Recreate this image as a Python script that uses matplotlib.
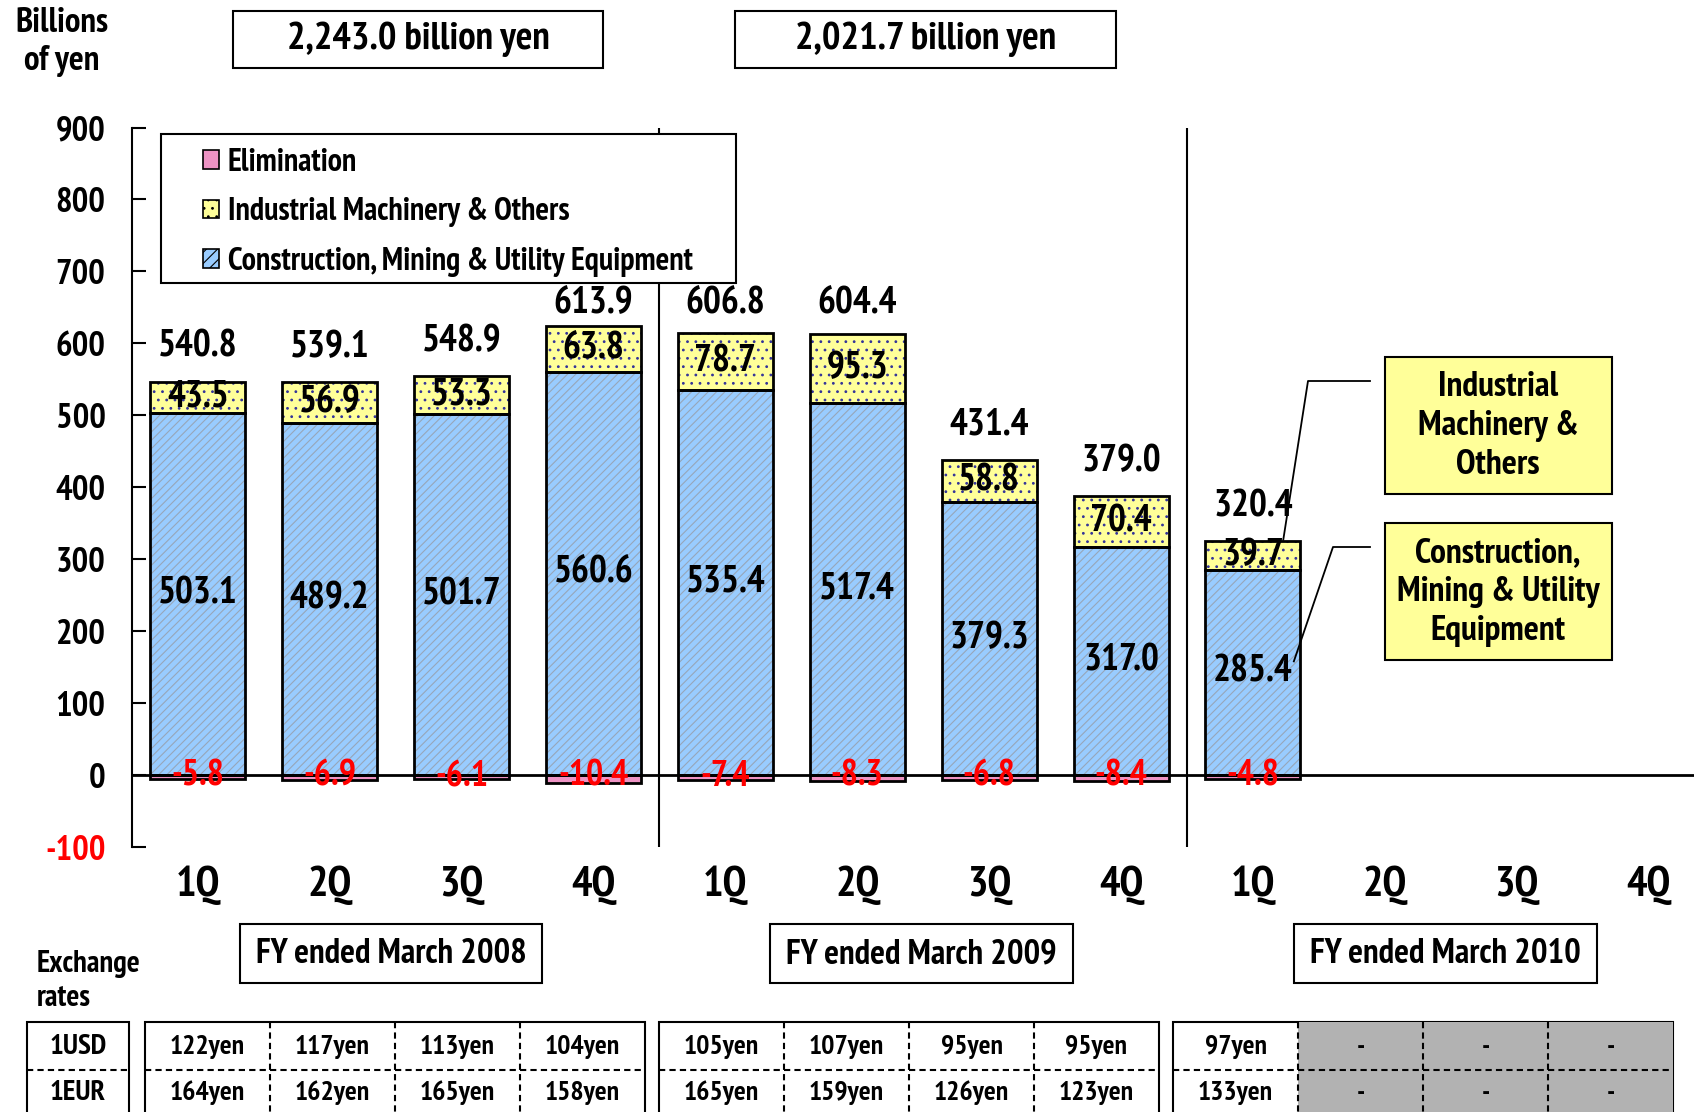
import matplotlib
matplotlib.use('Agg')
import matplotlib.pyplot as plt
from matplotlib.patches import Rectangle
import numpy as np

plt.rcParams['font.family'] = ['PT Sans Narrow', 'DejaVu Sans']
plt.rcParams['font.weight'] = 'bold'
plt.rcParams['axes.unicode_minus'] = False
plt.rcParams['hatch.linewidth'] = 0.8

quarters = ['1Q', '2Q', '3Q', '4Q'] * 3
cmu = [503.1, 489.2, 501.7, 560.6, 535.4, 517.4, 379.3, 317.0, 285.4]
imo = [43.5, 56.9, 53.3, 63.8, 78.7, 95.3, 58.8, 70.4, 39.7]
elim = [-5.8, -6.9, -6.1, -10.4, -7.4, -8.3, -6.8, -8.4, -4.8]
totals = [540.8, 539.1, 548.9, 613.9, 606.8, 604.4, 431.4, 379.0, 320.4]
year_totals = ['2,243.0 billion yen', '2,021.7 billion yen']
fy_names = ['FY ended March 2008', 'FY ended March 2009', 'FY ended March 2010']
usd = ['122yen', '117yen', '113yen', '104yen', '105yen', '107yen', '95yen', '95yen', '97yen', '-', '-', '-']
eur = ['164yen', '162yen', '165yen', '158yen', '165yen', '159yen', '126yen', '123yen', '133yen', '-', '-', '-']
legend_names = ['Elimination', 'Industrial Machinery & Others',
                'Construction, Mining & Utility Equipment']

C_BLUE = '#99CCFF'
C_YEL = '#FFFF99'
C_PINK = '#EE93C4'

W, H = 1694, 1112
fig = plt.figure(figsize=(W / 100, H / 100), dpi=100)

# main axes, 12 quarter slots, last one runs past the right edge
left = 131.8 / W
slot = 131.9 / W
ax = fig.add_axes([left, 1 - 847 / H, slot * 12, (847 - 127.5) / H])
ax.set_xlim(-0.5, 11.5)
ax.set_ylim(-100, 900)

x = np.arange(len(cmu))
bw = 0.72
cmu = np.array(cmu)
imo = np.array(imo)
elim = np.array(elim)

# fills with hatching, then black outlines on top
ax.bar(x, cmu, bw, color=C_BLUE, edgecolor='#97a6b8', hatch='////', lw=0, zorder=2)
ax.bar(x, imo, bw, bottom=cmu, color=C_YEL, edgecolor='#333399', hatch='..', lw=0, zorder=2)
ax.bar(x, elim, bw, color=C_PINK, lw=0, zorder=2)
for vals, bot in [(cmu, 0), (imo, cmu), (elim, 0)]:
    ax.bar(x, vals, bw, bottom=bot, fill=False, edgecolor='black', lw=2, zorder=3)

ax.axhline(0, color='black', lw=2, zorder=4)
ax.vlines([3.5, 7.5], -100, 900, color='black', lw=1.5, zorder=1)

for i in range(len(cmu)):
    ax.text(x[i], cmu[i] / 2, f'{cmu[i]:.1f}', ha='center', va='center', fontsize=27, zorder=5)
    ax.text(x[i], cmu[i] + imo[i] / 2, f'{imo[i]:.1f}', ha='center', va='center', fontsize=27, zorder=5)
    ax.text(x[i], -2, f'{elim[i]:.1f}', ha='center', va='center', fontsize=26, color='red', zorder=5)
    top = cmu[i] + imo[i]
    ax.text(x[i], min(top + 48, 655), f'{totals[i]:.1f}', ha='center', va='center', fontsize=27, zorder=5)

for i, q in enumerate(quarters):
    ax.text(i, -153, q, ha='center', va='center', fontsize=31, clip_on=False)

for s in ['top', 'right', 'bottom']:
    ax.spines[s].set_visible(False)
ax.spines['left'].set_linewidth(1.5)
ax.set_xticks([])
ax.set_yticks(np.arange(-100, 901, 100))
ax.tick_params(axis='y', direction='in', length=10, width=1.5, labelsize=25, pad=19)
for lab in ax.get_yticklabels():
    lab.set_fontweight('bold')
ax.get_yticklabels()[0].set_color('red')

# overlay in pixel units for the boxes and the rate table
ov = fig.add_axes([0, 0, 1, 1])
ov.set_xlim(0, W)
ov.set_ylim(H, 0)
ov.axis('off')


def box(x0, y0, x1, y1, fc='white', lw=1.5, z=2):
    ov.add_patch(Rectangle((x0, y0), x1 - x0, y1 - y0, fc=fc, ec='black', lw=lw, zorder=z))


def to_px(xd, yd):
    dx, dy = ax.transData.transform((xd, yd))
    return dx, H - dy


ov.text(62, 42, 'Billions\nof yen', ha='center', va='center', fontsize=25, linespacing=1.25)

for (x0, x1), t in zip([(233, 603), (735, 1116)], year_totals):
    box(x0, 11, x1, 68)
    ov.text((x0 + x1) / 2, 39, t, ha='center', va='center', fontsize=28, zorder=3)

# legend
box(161, 134, 736, 283, z=3)
handles = [Rectangle((0, 0), 1, 1, fc=C_PINK, ec='black', lw=1.2),
           Rectangle((0, 0), 1, 1, fc=C_YEL, ec='black', lw=1.2, hatch='..'),
           Rectangle((0, 0), 1, 1, fc=C_BLUE, ec='black', lw=1.2, hatch='///')]
leg = ov.legend(handles, legend_names, loc='upper left', bbox_to_anchor=(190 / W, 1 - 135 / H),
                bbox_transform=fig.transFigure, frameon=False, fontsize=23, handlelength=0.5,
                handleheight=0.5, handletextpad=0.28, labelspacing=0.61, borderpad=0.4,
                borderaxespad=0)
leg.set_zorder(4)

# callouts
box(1385, 357, 1612, 494, fc=C_YEL)
ov.text(1498, 426, 'Industrial\nMachinery &\nOthers', ha='center', va='center', fontsize=25.5,
        linespacing=1.28, zorder=3)
box(1385, 523, 1612, 660, fc=C_YEL)
ov.text(1498, 592, 'Construction,\nMining & Utility\nEquipment', ha='center', va='center', fontsize=25.5,
        linespacing=1.28, zorder=3)
ex, ey = to_px(8.23, cmu[8] + imo[8] + 2)
ov.plot([1370, 1308, ex], [381, 381, ey], color='black', lw=1.3, zorder=3)
ex, ey = to_px(8.31, 158)
ov.plot([1370, 1333, ex], [547, 547, ey], color='black', lw=1.3, zorder=3)

# fiscal year boxes
for (x0, x1), t in zip([(240, 542), (770, 1073), (1294, 1597)], fy_names):
    box(x0, 924, x1, 983)
    ov.text((x0 + x1) / 2, 954, t, ha='center', va='center', fontsize=25, zorder=3)

# exchange rate table
ov.text(37, 981, 'Exchange\nrates', ha='left', va='center', fontsize=22, linespacing=1.3)
top, mid, bot = 1022, 1070, 1118
box(27, top, 129, bot)
ov.plot([27, 129], [mid, mid], color='black', lw=1.5, ls=(0, (3, 2)), zorder=3)
ov.text(78, 1047, '1USD', ha='center', va='center', fontsize=21, zorder=3)
ov.text(78, 1093, '1EUR', ha='center', va='center', fontsize=21, zorder=3)
for g, gx in enumerate([145, 659, 1173]):
    cw = 125
    box(gx, top, gx + 4 * cw, bot)
    if g == 2:
        ov.add_patch(Rectangle((gx + cw, top), 3 * cw, bot - top, fc='#B2B2B2', ec='none', zorder=2.5))
    ov.plot([gx, gx + 4 * cw], [mid, mid], color='black', lw=1.5, ls=(0, (3, 2)), zorder=3)
    for k in range(1, 4):
        ov.plot([gx + k * cw] * 2, [top, bot], color='black', lw=1.5, ls=(0, (3, 2)), zorder=3)
    for k in range(4):
        j = g * 4 + k
        cx = gx + (k + 0.5) * cw
        ov.text(cx, 1047, usd[j], ha='center', va='center', fontsize=20, zorder=4)
        ov.text(cx, 1093, eur[j], ha='center', va='center', fontsize=20, zorder=4)

fig.savefig('out.png', dpi=100)
